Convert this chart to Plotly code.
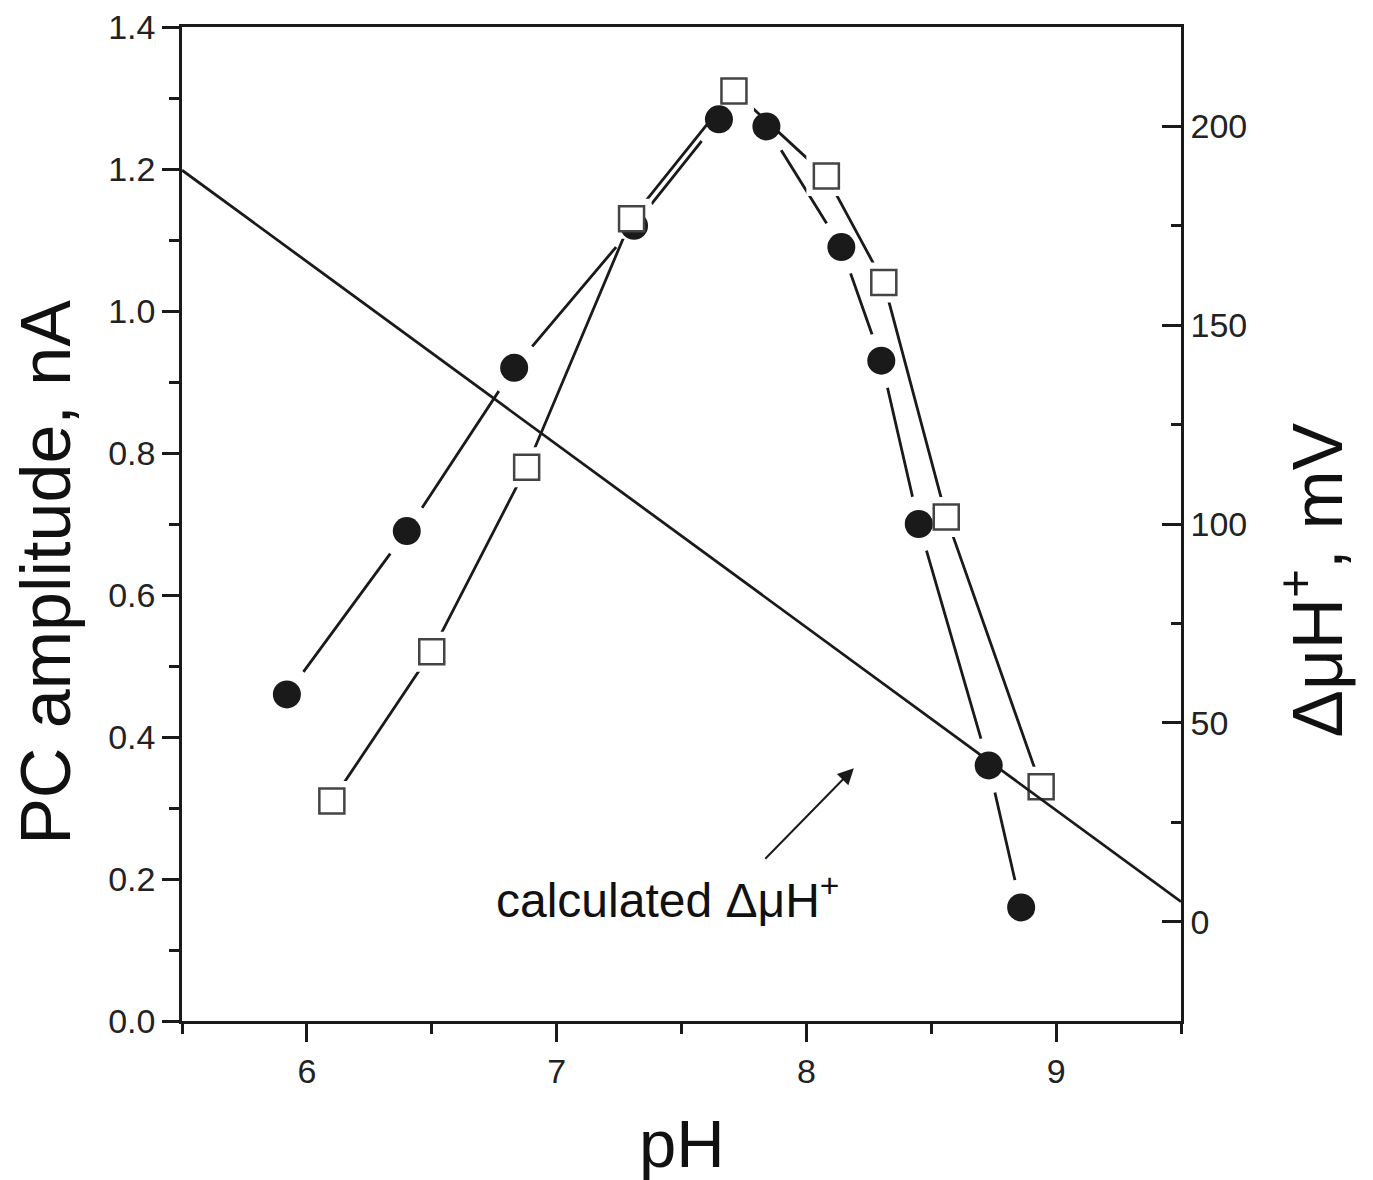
import plotly.graph_objects as go

# ---- data ----
ph_circles = [5.92, 6.40, 6.83, 7.31, 7.65, 7.84, 8.14, 8.30, 8.45, 8.73, 8.86]
pc_circles = [0.46, 0.69, 0.92, 1.12, 1.27, 1.26, 1.09, 0.93, 0.70, 0.36, 0.16]

ph_squares = [6.10, 6.50, 6.88, 7.30, 7.71, 8.08, 8.31, 8.56, 8.94]
pc_squares = [0.31, 0.52, 0.78, 1.13, 1.31, 1.19, 1.04, 0.71, 0.33]

ph_calc = [5.5, 9.5]
mv_calc = [189, 5]

left_ticks = [0.0, 0.2, 0.4, 0.6, 0.8, 1.0, 1.2, 1.4]
right_ticks = [0, 50, 100, 150, 200]
x_ticks = [6, 7, 8, 9]

FONT = "Liberation Sans, Arial, sans-serif"
BLACK = "#1a1a1a"

fig = go.Figure()

# circles connecting line + halo (gap to symbol)
fig.add_trace(go.Scatter(x=ph_circles, y=pc_circles, mode="lines",
                         line=dict(color=BLACK, width=2.8), hoverinfo="skip", showlegend=False))
fig.add_trace(go.Scatter(x=ph_circles, y=pc_circles, mode="markers",
                         marker=dict(symbol="circle", size=56, color="white", line=dict(width=0)),
                         hoverinfo="skip", showlegend=False))
# squares connecting line + halo
fig.add_trace(go.Scatter(x=ph_squares, y=pc_squares, mode="lines",
                         line=dict(color=BLACK, width=2.8), hoverinfo="skip", showlegend=False))
fig.add_trace(go.Scatter(x=ph_squares, y=pc_squares, mode="markers",
                         marker=dict(symbol="square", size=40, color="white", line=dict(width=0)),
                         hoverinfo="skip", showlegend=False))

# calculated line on right axis
fig.add_trace(go.Scatter(x=ph_calc, y=mv_calc, mode="lines", yaxis="y2",
                         line=dict(color=BLACK, width=2.8), showlegend=False))

# markers on top
fig.add_trace(go.Scatter(x=ph_circles, y=pc_circles, mode="markers",
                         marker=dict(symbol="circle", size=28, color=BLACK, line=dict(width=0)),
                         showlegend=False))
fig.add_trace(go.Scatter(x=ph_squares, y=pc_squares, mode="markers",
                         marker=dict(symbol="square", size=25, color="white",
                                     line=dict(color="#444", width=2.5)),
                         showlegend=False))

tickfont = dict(family=FONT, size=34, color="#222")

fig.update_layout(
    width=1373, height=1180,
    margin=dict(l=174, r=200, t=19, b=167),
    paper_bgcolor="white", plot_bgcolor="white",
    xaxis=dict(range=[5.5, 9.5], tickmode="array", tickvals=x_ticks,
               ticktext=[str(v) for v in x_ticks], showgrid=False, zeroline=False,
               showline=True, linecolor=BLACK, linewidth=2.5, mirror=True,
               ticks="outside", ticklen=18, tickwidth=2.5, tickcolor=BLACK,
               minor=dict(ticks="outside", dtick=0.5, tick0=5.5, ticklen=10, tickwidth=2.5, tickcolor=BLACK),
               tickfont=tickfont, ticklabeloverflow="allow", automargin=False),
    yaxis=dict(range=[0, 1.4], tickmode="array", tickvals=left_ticks,
               ticktext=[f"{v:.1f}" for v in left_ticks], showgrid=False, zeroline=False,
               showline=True, linecolor=BLACK, linewidth=2.5,
               ticks="outside", ticklen=17, tickwidth=2.5, tickcolor=BLACK,
               minor=dict(ticks="outside", dtick=0.1, tick0=0, ticklen=10, tickwidth=2.5, tickcolor=BLACK),
               tickfont=tickfont, ticklabeloverflow="allow", automargin=False),
    yaxis2=dict(range=[-25, 225], tickmode="array", tickvals=right_ticks,
                ticktext=[str(v) for v in right_ticks], overlaying="y", side="right",
                showgrid=False, zeroline=False,
                showline=True, linecolor=BLACK, linewidth=2.5,
                ticks="inside", ticklen=19, tickwidth=2.5, tickcolor=BLACK,
                minor=dict(ticks="inside", dtick=25, tick0=0, ticklen=10, tickwidth=2.5, tickcolor=BLACK),
                tickfont=tickfont, ticklabeloverflow="allow", automargin=False),
    annotations=[
        dict(text="PC amplitude, nA", xref="paper", yref="paper", x=-0.136, y=0.451,
             xanchor="center", yanchor="middle", textangle=-90, showarrow=False,
             font=dict(family=FONT, size=70, color="#111")),
        dict(text="pH", xref="paper", yref="paper", x=0.5, y=-0.1237,
             xanchor="center", yanchor="middle", showarrow=False,
             font=dict(family=FONT, size=67, color="#111")),
        dict(text="ΔμH<sup>+</sup>, mV", xref="paper", yref="paper", x=1.131, y=0.444,
             xanchor="center", yanchor="middle", textangle=-90, showarrow=False,
             font=dict(family=FONT, size=71, color="#111")),
        dict(text="calculated ΔμH<sup>+</sup>", xref="paper", yref="paper", x=0.4855, y=0.125,
             xanchor="center", yanchor="middle", showarrow=False,
             font=dict(family=FONT, size=48, color="#111")),
        dict(text="", x=8.19, y=0.356, xref="x", yref="y", showarrow=True,
             ax=-90, ay=92, arrowhead=2, arrowsize=1.6, arrowwidth=2, arrowcolor=BLACK),
    ],
)

fig.write_html("out.html")
